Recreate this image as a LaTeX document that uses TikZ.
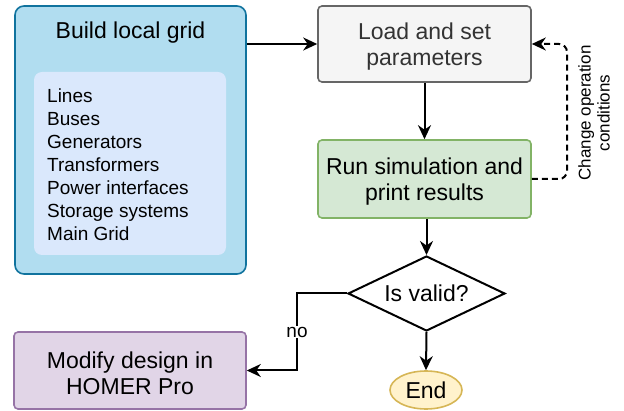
\documentclass[tikz,border=0pt]{standalone}
\usepackage{fontspec}
\setmainfont{Liberation Sans}
\usetikzlibrary{shapes.geometric,arrows.meta}
\definecolor{bluefill}{HTML}{B1DDF0}
\definecolor{bluedraw}{HTML}{10739E}
\definecolor{innerfill}{HTML}{DAE8FC}
\definecolor{grayfill}{HTML}{F5F5F5}
\definecolor{graydraw}{HTML}{666666}
\definecolor{graytext}{HTML}{333333}
\definecolor{greenfill}{HTML}{D5E8D4}
\definecolor{greendraw}{HTML}{82B366}
\definecolor{purplefill}{HTML}{E1D5E7}
\definecolor{purpledraw}{HTML}{9673A6}
\definecolor{yellowfill}{HTML}{FFF2CC}
\definecolor{yellowdraw}{HTML}{D6B656}
\tikzset{
  box/.style={rectangle, rounded corners=4pt, line width=1.6pt, inner sep=0pt},
  boxtext/.style={align=center, inner sep=0pt, font=\fontsize{23}{26}\selectfont},
  arrtip/.style={-{Stealth[length=14pt,width=13pt,inset=4.5pt]}},
  arr/.style={line width=2pt, arrtip},
}
\begin{document}
\begin{tikzpicture}[x=1pt,y=-1pt]
\useasboundingbox (0,0) rectangle (624,411);
% build local grid
\node[box, rounded corners=9pt, fill=bluefill, draw=bluedraw, minimum width=231pt, minimum height=268pt] (grid) at (130.5,140) {};
\node[boxtext] (gridtitle) at (130.5,33) {Build local grid};
\node[rectangle, rounded corners=8pt, fill=innerfill, minimum width=192pt, minimum height=183pt] (inner) at (130,163.5) {};
\node[anchor=north west, align=left, inner sep=0pt, font=\fontsize{19}{23}\selectfont] (list) at (47,89)
  {Lines\\Buses\\Generators\\Transformers\\Power interfaces\\Storage systems\\Main Grid};
% load
\node[box, fill=grayfill, draw=graydraw, minimum width=213pt, minimum height=76pt] (load) at (424.5,44) {};
\node[boxtext, text=graytext] (loadtext) at (424.5,47) {Load and set\\parameters};
% run
\node[box, fill=greenfill, draw=greendraw, minimum width=213pt, minimum height=78pt] (run) at (424.5,179) {};
\node[boxtext] (runtext) at (424.5,182) {Run simulation and\\print results};
% diamond
\node[diamond, aspect=2.5, draw, line width=2pt, fill=white, inner sep=0pt, minimum width=157pt, minimum height=75pt,
  font=\fontsize{23}{26}\selectfont] (valid) at (426.5,293.5) {Is valid?};
% modify
\node[box, fill=purplefill, draw=purpledraw, minimum width=232pt, minimum height=77pt] (modify) at (130,370.5) {};
\node[boxtext] (modifytext) at (130,373.5) {Modify design in\\HOMER Pro};
% end
\node[ellipse, draw=yellowdraw, fill=yellowfill, line width=1.6pt, minimum width=72pt, minimum height=38pt, inner sep=0pt,
  font=\fontsize{23}{26}\selectfont] (end) at (426,390) {End};
% connectors
\draw[arr] (grid.east |- load.west) -- (load.west);
\draw[arr] (load.south) -- (run.north);
\draw[arr] (run.south -| valid.north) -- (valid.north);
\draw[arr] (valid.south) -- (end.north);
\coordinate (noturn) at (297,293.5);
\draw[arr] (valid.west) -- (noturn) |- (modify.east);
\node[fill=white, inner sep=1pt, font=\fontsize{19}{22}\selectfont] (nolabel) at (297,332) {no};
\coordinate (loopx) at (567,179);
\draw[line width=2pt, dash pattern=on 6pt off 4pt, rounded corners=8pt, arrtip]
  (run.east) -- (loopx) |- (load.east);
\node[rotate=90, align=center, inner sep=0pt, font=\fontsize{17}{19}\selectfont] (change) at (594,113) {Change operation\\conditions};
\end{tikzpicture}
\end{document}
